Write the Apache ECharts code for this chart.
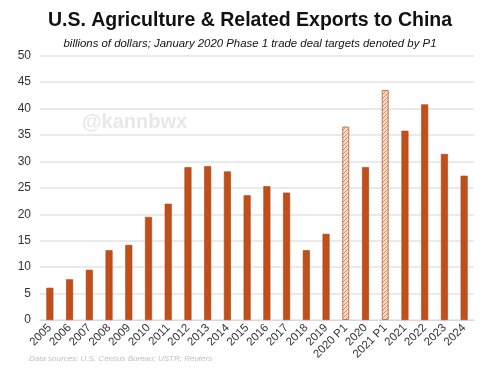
<!DOCTYPE html>
<html>
<head>
<meta charset="utf-8">
<script src="https://cdn.jsdelivr.net/npm/echarts@6/dist/echarts.min.js"></script>
<style>html,body{margin:0;padding:0;background:#fff}#c{width:500px;height:374px}</style>
</head>
<body>
<div id="c"></div>
<script>
const categories = ['2005','2006','2007','2008','2009','2010','2011','2012','2013','2014','2015','2016','2017','2018','2019','2020 P1','2020','2021 P1','2021','2022','2023','2024'];
const values = [6.1,7.7,9.5,13.2,14.2,19.5,22.0,28.9,29.1,28.1,23.6,25.3,24.1,13.2,16.3,36.6,28.9,43.5,35.8,40.8,31.4,27.3];
const isTarget = [false,false,false,false,false,false,false,false,false,false,false,false,false,false,false,true,false,true,false,false,false,false];
const yTicks = [0,5,10,15,20,25,30,35,40,45,50];

const pc = document.createElement('canvas');
pc.width = 4; pc.height = 4;
const g = pc.getContext('2d');
g.fillStyle = '#f6dccd'; g.fillRect(0,0,4,4);
g.fillStyle = '#d98a63';
g.fillRect(0,0,1,1); g.fillRect(2,2,1,1); g.fillRect(1,3,1,1); g.fillRect(3,1,1,1);

const chart = echarts.init(document.getElementById('c'), null, {renderer:'canvas'});
chart.setOption({
  animation:false,
  title:[{
    text:'U.S. Agriculture & Related Exports to China',
    left:'center', top:6,
    textStyle:{fontFamily:'Liberation Sans, Arial', fontWeight:'bold', fontSize:19.5, color:'#111'}
  },{
    text:'billions of dollars; January 2020 Phase 1 trade deal targets denoted by P1',
    left:'center', top:33,
    textStyle:{fontFamily:'Liberation Sans, Arial', fontStyle:'italic', fontWeight:'normal', fontSize:11.4, color:'#111'}
  },{
    text:'Data sources: U.S. Census Bureau; USTR; Reuters',
    left:24, top:350,
    textStyle:{fontFamily:'Liberation Sans, Arial', fontStyle:'italic', fontWeight:'normal', fontSize:8, color:'#c0c0c0'}
  }],
  graphic:[{
    type:'text', left:82, top:112,
    style:{text:'@kannbwx', font:'bold 20px Liberation Sans, Arial', fill:'#e8e8e8'}
  }],
  grid:{left:40, right:26, top:55.7, bottom:54},
  xAxis:{
    type:'category', data:categories,
    axisTick:{show:false},
    axisLine:{lineStyle:{color:'#d9d9d9'}},
    axisLabel:{rotate:45, interval:0, fontFamily:'Liberation Sans, Arial', fontSize:11.5, color:'#333', margin:6}
  },
  yAxis:{
    type:'value', min:yTicks[0], max:yTicks[yTicks.length-1], interval:5,
    axisLabel:{fontFamily:'Liberation Sans, Arial', fontSize:12, color:'#333', margin:9},
    splitLine:{lineStyle:{color:'#e3e3e3', width:1.5}},
    axisLine:{show:false}, axisTick:{show:false}
  },
  series:[{
    type:'bar', barWidth:7,
    data: values.map((v,i)=>isTarget[i] ? {
      value:v, itemStyle:{color:{image:pc, repeat:'repeat'}, borderColor:'#c77550', borderWidth:1}
    } : {value:v}),
    itemStyle:{color:'#c24f1a', borderColor:'#a9431a', borderWidth:0.6}
  }]
});
</script>
</body>
</html>
